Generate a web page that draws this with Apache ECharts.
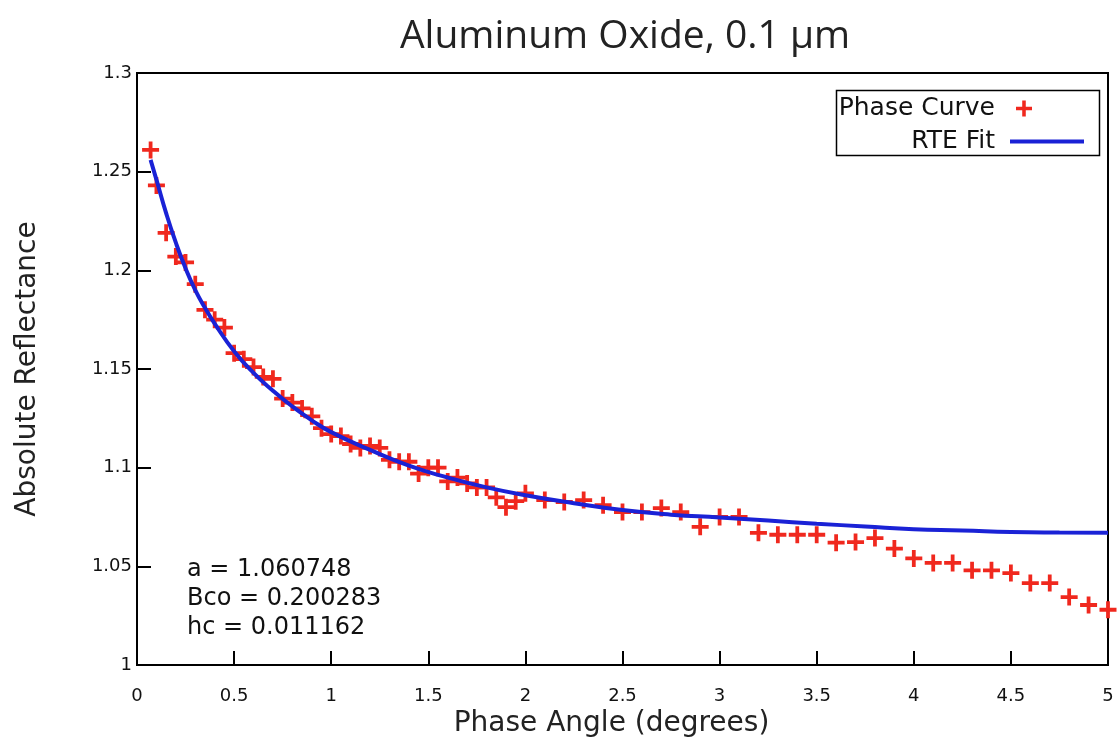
<!DOCTYPE html>
<html>
<head>
<meta charset="utf-8">
<script src="https://cdn.jsdelivr.net/npm/echarts@6/dist/echarts.min.js"></script>
<style>html,body{margin:0;padding:0;background:#fff}#c{width:1119px;height:747px}</style>
</head>
<body>
<div id="c"></div>
<script>
// Phase curve measurements
const phaseX = [0.07,0.10,0.15,0.20,0.25,0.30,0.35,0.40,0.45,0.50,0.55,0.60,0.65,0.70,0.75,0.80,0.85,0.90,0.95,1.00,
  1.05,1.10,1.15,1.20,1.25,1.30,1.35,1.40,1.45,1.50,1.55,1.60,1.65,1.70,1.75,1.80,1.85,1.90,1.95,2.00,
  2.10,2.20,2.30,2.40,2.50,2.60,2.70,2.80,2.90,3.00,3.10,3.20,3.30,3.40,3.50,3.60,3.70,3.80,3.90,4.00,
  4.10,4.20,4.30,4.40,4.50,4.60,4.70,4.80,4.90,5.00];
const phaseY = [1.261,1.243,1.219,1.207,1.204,1.193,1.180,1.175,1.171,1.158,1.155,1.151,1.146,1.145,1.135,1.133,1.130,1.126,1.120,1.117,
  1.116,1.112,1.110,1.111,1.110,1.104,1.103,1.103,1.097,1.100,1.100,1.093,1.095,1.092,1.090,1.090,1.085,1.080,1.083,1.087,
  1.0836,1.0826,1.0836,1.081,1.0775,1.0775,1.0795,1.0775,1.070,1.075,1.075,1.067,1.066,1.066,1.066,1.062,1.0623,1.0643,1.059,1.054,
  1.0517,1.0517,1.048,1.048,1.0466,1.0415,1.0415,1.0344,1.0304,1.028];
// RTE fit curve
const fitX = [0.07,0.10,0.15,0.20,0.25,0.30,0.35,0.40,0.50,0.60,0.70,0.80,0.90,1.00,1.20,1.40,1.60,1.80,2.00,2.25,2.50,2.75,3.00,3.25,3.50,3.75,4.00,4.25,4.50,4.75,5.00];
const fitY = [1.256,1.246,1.229,1.214,1.201,1.190,1.181,1.173,1.159,1.148,1.139,1.131,1.124,1.118,1.109,1.101,1.095,1.090,1.086,1.082,1.0785,1.0762,1.0748,1.0732,1.0716,1.0702,1.0688,1.0682,1.0674,1.0671,1.0670];
const xTicks = {min: 0, max: 5, interval: 0.5};
const yTicks = {min: 1, max: 1.3, interval: 0.05};
const params = ['a = 1.060748', 'Bco = 0.200283', 'hc = 0.011162'];

const pts = phaseX.map((x, i) => [x, phaseY[i]]);
const fit = fitX.map((x, i) => [x, fitY[i]]);
const plus = 'path://M7,0h4v7h7v4h-7v7h-4v-7h-7v-4h7z';
const tickFont = {fontFamily: 'DejaVu Sans', fontSize: 18, color: '#111'};

const chart = echarts.init(document.getElementById('c'), null, {renderer: 'canvas'});
chart.setOption({
  animation: false,
  backgroundColor: '#fff',
  title: {
    text: 'Aluminum Oxide, 0.1 µm', left: 620, textAlign: 'center', top: 12,
    textStyle: {fontFamily: 'Open Sans', fontWeight: 'normal', fontSize: 39, color: '#222'}
  },
  grid: {left: 137, right: 11, top: 73, bottom: 82, show: true, borderColor: '#000', borderWidth: 2},
  xAxis: {
    type: 'value', min: xTicks.min, max: xTicks.max, interval: xTicks.interval,
    name: 'Phase Angle (degrees)', nameLocation: 'middle', nameGap: 45,
    nameTextStyle: {fontFamily: 'DejaVu Sans', fontSize: 28, color: '#222', padding: [0, 22, 0, 0]},
    axisLine: {lineStyle: {color: '#000', width: 2}},
    axisTick: {inside: true, length: 14, lineStyle: {color: '#000', width: 2}},
    axisLabel: Object.assign({margin: 22}, tickFont),
    splitLine: {show: false}
  },
  yAxis: {
    type: 'value', min: yTicks.min, max: yTicks.max, interval: yTicks.interval,
    name: 'Absolute Reflectance', nameLocation: 'middle', nameGap: 95,
    nameTextStyle: {fontFamily: 'DejaVu Sans', fontSize: 28, color: '#222'},
    axisLine: {lineStyle: {color: '#000', width: 2}},
    axisTick: {inside: true, length: 14, lineStyle: {color: '#000', width: 2}},
    axisLabel: Object.assign({margin: 5}, tickFont),
    splitLine: {show: false}
  },
  legend: [
    {
      data: ['Phase Curve'], orient: 'vertical', align: 'right', right: 87, top: 96,
      itemWidth: 16, itemHeight: 16, padding: 0,
      textStyle: {fontFamily: 'DejaVu Sans', fontSize: 25, color: '#111', padding: [0, 16, 0, 0]}
    },
    {
      data: [{name: 'RTE Fit', icon: 'rect'}], orient: 'vertical', align: 'right', right: 35, top: 129,
      itemWidth: 74, itemHeight: 4, padding: 0,
      textStyle: {fontFamily: 'DejaVu Sans', fontSize: 25, color: '#111', padding: [0, 10, 0, 0]}
    }
  ],
  graphic: [
    {type: 'rect', left: 834, top: 88, shape: {width: 263, height: 65}, style: {fill: 'none', stroke: '#000', lineWidth: 1.5}, z: 10},
    {type: 'text', left: 187, top: 555, style: {text: params.join('\n'), font: '24px "DejaVu Sans"', lineHeight: 29, fill: '#111'}, z: 10}
  ],
  series: [
    {
      name: 'Phase Curve', type: 'scatter', data: pts, symbol: plus, symbolSize: 17,
      itemStyle: {color: '#f0281e', opacity: 1}, clip: false, z: 2
    },
    {
      name: 'RTE Fit', type: 'line', data: fit, smooth: true, showSymbol: false, symbol: 'none',
      lineStyle: {color: '#1a22d6', width: 4}, itemStyle: {color: '#1a22d6'}, z: 3
    }
  ]
});
</script>
</body>
</html>
